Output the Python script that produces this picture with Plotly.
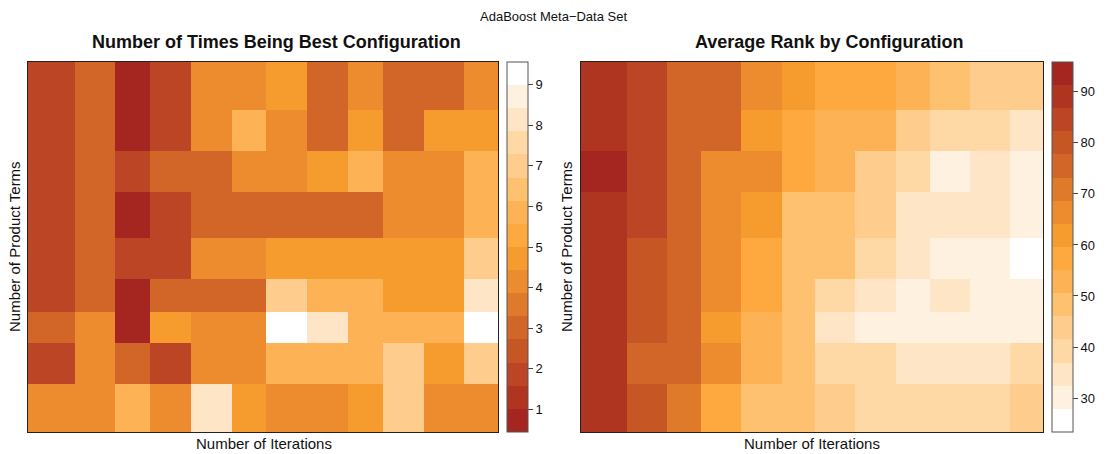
import numpy as np
import plotly.graph_objects as go

# Grid spacing (relative widths of iteration bins, heights of product-term bins, bottom -> top)
iter_widths = [47, 40, 35, 41, 41, 34, 41, 41, 35, 41, 40, 34]
term_heights = [48, 41, 31, 33, 41, 46, 41, 41, 48]

# Number of times each configuration was best (rows listed top -> bottom)
best_counts = [
    [2, 3, 1, 2, 4, 4, 5, 3, 4, 3, 3, 4],
    [2, 3, 1, 2, 4, 6, 4, 3, 5, 3, 5, 5],
    [2, 3, 2, 3, 3, 4, 4, 5, 6, 4, 4, 6],
    [2, 3, 1, 2, 3, 3, 3, 3, 3, 4, 4, 6],
    [2, 3, 2, 2, 4, 4, 5, 5, 5, 5, 5, 7],
    [2, 3, 1, 3, 3, 3, 7, 6, 6, 5, 5, 8],
    [3, 4, 1, 5, 4, 4, 9, 8, 6, 6, 6, 9],
    [2, 4, 3, 2, 4, 4, 6, 6, 6, 7, 5, 7],
    [4, 4, 6, 4, 8, 5, 4, 4, 5, 7, 4, 4],
]

# Average rank of each configuration (rows listed top -> bottom)
avg_rank = [
    [89.2, 84.5, 75.6, 74.8, 66.0, 61.5, 57.0, 56.4, 52.3, 48.6, 44.1, 43.2],
    [88.4, 84.0, 76.2, 75.1, 62.3, 57.8, 53.4, 52.1, 43.9, 39.5, 38.8, 34.9],
    [91.4, 85.1, 74.9, 66.8, 65.7, 57.1, 52.9, 43.5, 39.0, 30.4, 34.2, 30.9],
    [89.6, 84.8, 75.3, 66.2, 61.9, 48.7, 47.6, 44.4, 34.6, 35.3, 33.8, 30.2],
    [89.0, 80.1, 74.5, 65.9, 57.5, 48.0, 47.9, 39.3, 35.1, 30.6, 29.8, 27.8],
    [88.7, 79.4, 75.8, 66.5, 56.9, 47.5, 38.7, 34.4, 30.5, 34.0, 31.2, 30.0],
    [88.1, 80.3, 74.2, 61.4, 52.6, 48.4, 35.2, 31.0, 30.3, 29.6, 30.8, 31.4],
    [88.9, 75.7, 75.0, 66.1, 53.1, 48.9, 39.8, 38.6, 34.8, 35.6, 34.0, 39.1],
    [89.8, 79.7, 70.6, 57.4, 48.3, 47.2, 43.8, 39.6, 38.9, 40.1, 39.4, 44.0],
]

count_ticks = [1, 2, 3, 4, 5, 6, 7, 8, 9]
rank_ticks = [30, 40, 50, 60, 70, 80, 90]

# 16-step palette, dark red -> white
palette = [
    "#A52520", "#AF3520", "#BB4524", "#C75625", "#D26628", "#DE7A2A",
    "#EC8C2E", "#F69C2F", "#FDA940", "#FDB256", "#FEC170", "#FECD8D",
    "#FED9A6", "#FEE5C5", "#FFF1E0", "#FFFFFF",
]

FONT = "Liberation Sans, Arial, Helvetica, sans-serif"
W, H = 1107, 454


def stepped_scale(colors, eps=1e-6):
    """Discrete colour scale with right-closed bins."""
    n = len(colors)
    stops = []
    for k, c in enumerate(colors):
        a = 0.0 if k == 0 else k / n + eps
        b = 1.0 if k == n - 1 else (k + 1) / n + eps
        stops.append([a, c])
        stops.append([b, c])
    return stops


def padded_range(grid, prop=0.07):
    vals = np.asarray(grid, dtype=float)
    lo, hi = vals.min(), vals.max()
    d = hi - lo
    return lo - prop * d, hi + prop * d


x_edges = np.concatenate([[0], np.cumsum(iter_widths)])
y_edges = np.concatenate([[0], np.cumsum(term_heights)])

c_lo, c_hi = padded_range(best_counts)
r_lo, r_hi = padded_range(avg_rank)


# pixel layout helpers
def fx(px):
    return px / W


def fy(py):
    return 1 - py / H


plot_top, plot_bot = 62, 432
bar_len = (plot_bot - plot_top) / H
bar_mid = fy((plot_top + plot_bot) / 2)

common_bar = dict(
    thickness=21, thicknessmode="pixels",
    len=bar_len, lenmode="fraction",
    y=bar_mid, yanchor="middle",
    xanchor="left", xpad=0, ypad=0,
    outlinewidth=1, outlinecolor="#555555",
    ticks="outside", ticklen=5, tickwidth=1, tickcolor="#444444",
    tickfont=dict(family=FONT, size=13, color="#111111"),
)

fig = go.Figure()

fig.add_trace(go.Heatmap(
    x=x_edges, y=y_edges, z=best_counts[::-1],
    zmin=c_lo, zmax=c_hi,
    colorscale=stepped_scale(palette),
    xaxis="x", yaxis="y",
    hoverinfo="z",
    colorbar=dict(common_bar, x=fx(507), tickvals=count_ticks),
))

fig.add_trace(go.Heatmap(
    x=x_edges, y=y_edges, z=avg_rank[::-1],
    zmin=r_lo, zmax=r_hi,
    colorscale=stepped_scale(palette[::-1]),
    xaxis="x2", yaxis="y2",
    hoverinfo="z",
    colorbar=dict(common_bar, x=fx(1052), tickvals=rank_ticks),
))

axis_style = dict(
    showgrid=False, zeroline=False, showticklabels=False, ticks="",
    showline=True, mirror=True, linecolor="#222222", linewidth=1,
)

fig.update_layout(
    width=W, height=H,
    margin=dict(l=0, r=0, t=0, b=0),
    paper_bgcolor="white", plot_bgcolor="white",
    font=dict(family=FONT, color="#111111"),
    xaxis=dict(axis_style, domain=[fx(28), fx(498)], range=[x_edges[0], x_edges[-1]]),
    yaxis=dict(axis_style, domain=[fy(plot_bot), fy(plot_top)], range=[y_edges[0], y_edges[-1]]),
    xaxis2=dict(axis_style, domain=[fx(581), fx(1043)], range=[x_edges[0], x_edges[-1]], anchor="y2"),
    yaxis2=dict(axis_style, domain=[fy(plot_bot), fy(plot_top)], range=[y_edges[0], y_edges[-1]], anchor="x2"),
    showlegend=False,
)

annotations = [
    dict(text="AdaBoost Meta\u2212Data Set", x=fx(553), y=fy(16), size=13, angle=0),
    dict(text="<b>Number of Times Being Best Configuration</b>", x=fx(276), y=fy(42), size=18, angle=0),
    dict(text="<b>Average Rank by Configuration</b>", x=fx(829), y=fy(42), size=18, angle=0),
    dict(text="Number of Iterations", x=fx(264), y=fy(443), size=15, angle=0),
    dict(text="Number of Iterations", x=fx(812), y=fy(443), size=15, angle=0),
    dict(text="Number of Product Terms", x=fx(14), y=fy(247), size=15, angle=-90),
    dict(text="Number of Product Terms", x=fx(566), y=fy(247), size=15, angle=-90),
]
for a in annotations:
    fig.add_annotation(
        text=a["text"], x=a["x"], y=a["y"], xref="paper", yref="paper",
        xanchor="center", yanchor="middle", showarrow=False, textangle=a["angle"],
        font=dict(family=FONT, size=a["size"], color="#111111"),
    )

fig.write_html("out.html")
